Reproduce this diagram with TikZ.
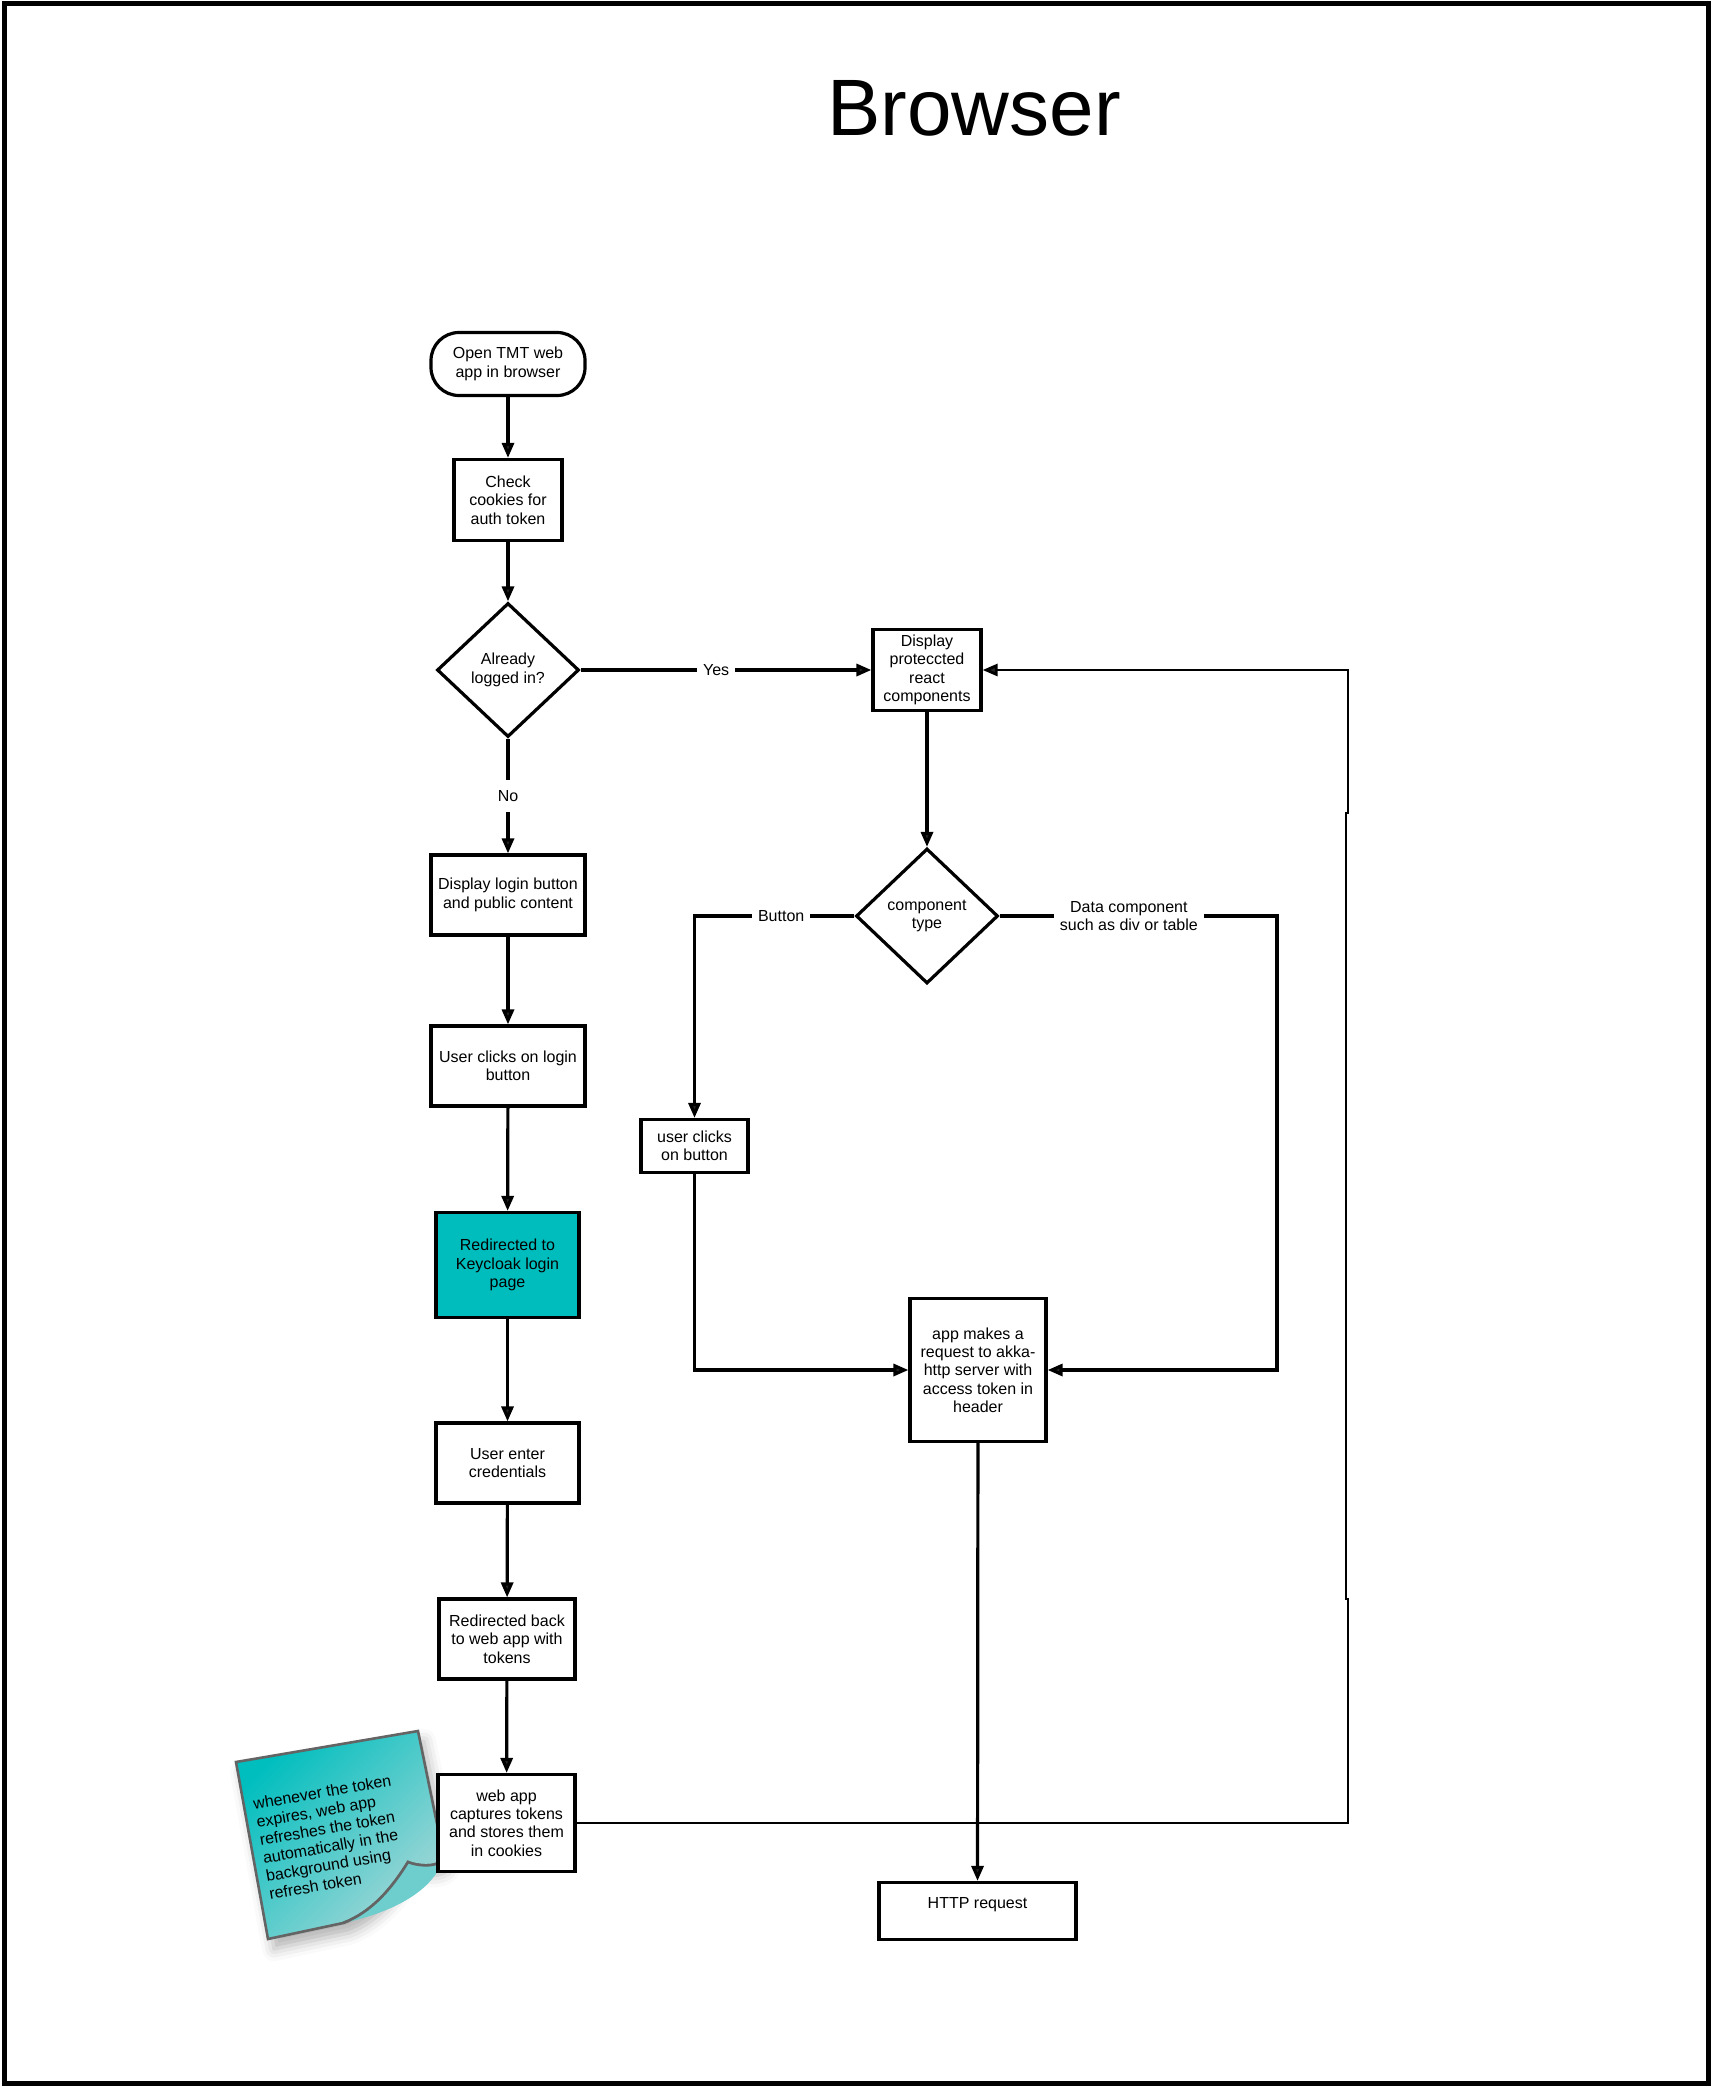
\documentclass[tikz,border=0pt]{standalone}
\usepackage{fontspec}
\setmainfont{Liberation Sans}
\usetikzlibrary{arrows.meta,shapes.geometric,shadows.blur}
\definecolor{teal1}{RGB}{0,189,189}
\definecolor{notedark}{RGB}{0,190,190}
\definecolor{notelight}{RGB}{165,215,215}
\definecolor{notecurl}{RGB}{110,205,205}
\definecolor{noteedge}{RGB}{100,100,100}
\tikzset{
  base/.style={draw, line width=1.6pt, align=center, font=\fontsize{8}{9.15}\selectfont, inner sep=1pt},
  box/.style={base, rectangle},
  term/.style={base, rectangle, rounded corners=14pt},
  dec/.style={base, diamond, inner sep=0pt},
  conn/.style={line width=1.6pt, -{Triangle[length=7.5pt,width=6pt]}},
  lbl/.style={fill=white, font=\fontsize{8}{9.15}\selectfont, inner xsep=3pt, inner ysep=3pt, align=center}
}
\begin{document}
\begin{tikzpicture}[x=0.5pt,y=-0.5pt]
\useasboundingbox (0,0) rectangle (1711,2087);
\draw[line width=2.5pt] (4.5,3.5) rectangle (1708.5,2083.5);
\node[font=\fontsize{40}{48}\selectfont, inner sep=0pt] (title) at (974,108) {Browser};

% sticky note
\path[draw=noteedge, line width=1.3pt, top color=notedark, bottom color=notelight, shading angle=45,
      blur shadow={shadow xshift=3pt, shadow yshift=-5pt, shadow blur radius=6pt, shadow opacity=30}]
  (236,1762) -- (418,1731) -- (443,1853) .. controls (446,1868) and (420,1867) .. (408,1862)
  .. controls (392,1888) and (372,1912) .. (343,1923) -- (268,1939) -- cycle;
\fill[notecurl] (408,1862) .. controls (392,1888) and (372,1912) .. (343,1923)
  .. controls (395,1912) and (432,1890) .. (442,1862) .. controls (430,1868) and (415,1866) .. (408,1862);
\draw[noteedge, line width=1.3pt] (443,1853) .. controls (446,1868) and (420,1867) .. (408,1862)
  .. controls (392,1888) and (372,1912) .. (343,1923);
\node[rotate=10, anchor=north west, inner sep=0pt, align=left, font=\fontsize{8}{9.15}\selectfont] (notetxt) at (252,1798)
  {whenever the token\\expires, web app\\refreshes the token\\automatically in the\\background using\\refresh token};

% nodes
\node[term, minimum width=77pt, minimum height=31.5pt] (start) at (508,364) {Open TMT web\\app in browser};
\node[box, minimum width=54pt, minimum height=40.5pt] (check) at (508,500) {Check\\cookies for\\auth token};
\node[dec, minimum width=71pt, minimum height=67pt] (logged) at (508,670) {Already\\logged in?};
\node[box, minimum width=54pt, minimum height=40.5pt] (disp) at (927,670) {Display\\proteccted\\react\\components};
\node[dec, minimum width=71pt, minimum height=67.5pt] (ctype) at (927,916) {component\\type};
\node[box, minimum width=77pt, minimum height=40pt] (login) at (508,895) {Display login button\\and public content};
\node[box, minimum width=77pt, minimum height=40pt] (uclick) at (508,1066) {User clicks on login\\button};
\node[box, fill=teal1, minimum width=71.5pt, minimum height=52.5pt] (keycloak) at (507.5,1265) {Redirected to\\Keycloak login\\page};
\node[box, minimum width=71.5pt, minimum height=40pt] (cred) at (507.5,1463) {User enter\\credentials};
\node[box, minimum width=68pt, minimum height=40pt] (back) at (507,1639) {Redirected back\\to web app with\\tokens};
\node[box, fill=white, minimum width=68.5pt, minimum height=48.5pt] (capture) at (506.5,1823) {web app\\captures tokens\\and stores them\\in cookies};
\node[box, minimum width=53.5pt, minimum height=26.5pt] (btn) at (694.5,1146) {user clicks\\on button};
\node[box, minimum width=68pt, minimum height=71.5pt] (req) at (978,1370) {app makes a\\request to akka-\\http server with\\access token in\\header};
\node[box, minimum width=98.5pt, minimum height=28.5pt, text height=6pt, text depth=9pt] (http) at (977.5,1911) {HTTP request};

% connectors
\draw[conn] (start) -- (check);
\draw[conn] (check) -- (logged);
\draw[conn] (logged) -- node[lbl, pos=0.466]{Yes} (disp);
\draw[conn] (logged) -- node[lbl, pos=0.5, inner ysep=5pt]{No} (login);
\draw[conn] (login) -- (uclick);
\draw[conn] (uclick) -- (keycloak);
\draw[conn] (keycloak) -- (cred);
\draw[conn] (cred) -- (back);
\draw[conn] (back) -- (capture);
\draw[conn] (disp) -- (ctype);
\draw[conn] (ctype.west) -| node[lbl, pos=0.229]{Button} (btn.north);
\coordinate (dcorner) at (1277,916);
\draw[conn] (ctype.east) -- node[lbl, pos=0.466]{Data component\\such as div or table} (dcorner) |- (req.east);
\draw[conn] (btn.south) |- (req.west);
\draw[conn] (req) -- (http);
\coordinate (f1) at (1348,1823);
\coordinate (f2) at (1348,1599);
\coordinate (f3) at (1346,1599);
\coordinate (f4) at (1346,813);
\coordinate (f5) at (1348,813);
\draw[conn, line width=1.4pt] (capture.east) -- (f1) -- (f2) -- (f3) -- (f4) -- (f5) |- (disp.east);
\end{tikzpicture}
\end{document}
